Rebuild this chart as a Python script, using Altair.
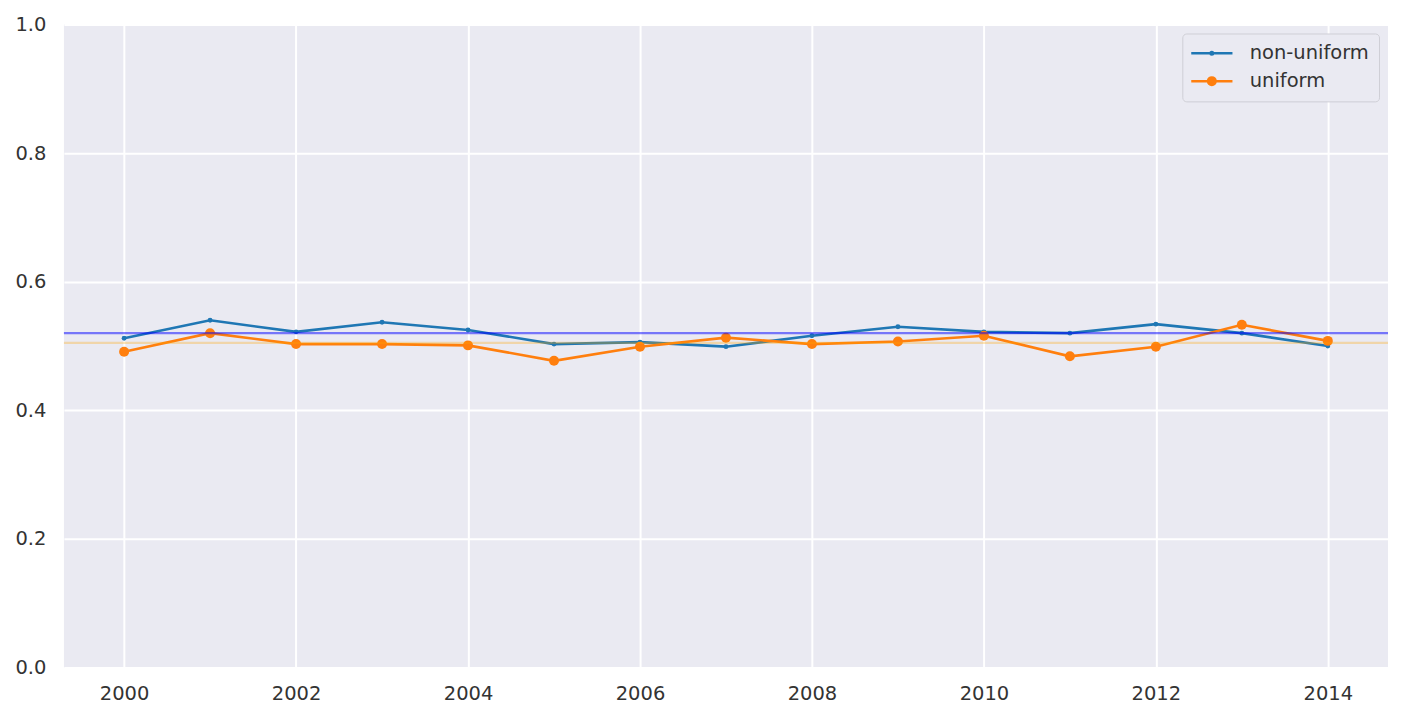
import altair as alt
import pandas as pd

# ---- data ----
years = list(range(2000, 2015))
non_uniform = [0.512, 0.540, 0.522, 0.537, 0.525, 0.503, 0.506, 0.499,
               0.516, 0.530, 0.522, 0.520, 0.534, 0.520, 0.500]
uniform = [0.491, 0.520, 0.503, 0.503, 0.501, 0.477, 0.499, 0.513,
           0.503, 0.507, 0.516, 0.484, 0.499, 0.533, 0.508]
series_names = ["non-uniform", "uniform"]
ref_levels = [0.520, 0.505]
x_ticks = [2000, 2002, 2004, 2006, 2008, 2010, 2012, 2014]
y_ticks = [0.0, 0.2, 0.4, 0.6, 0.8, 1.0]

df = pd.DataFrame({
    "year": years + years,
    "value": non_uniform + uniform,
    "series": [series_names[0]] * len(years) + [series_names[1]] * len(years),
})
ref_df = pd.DataFrame({"value": ref_levels, "series": series_names})

BLUE = "#1f77b4"
ORANGE = "#ff7f0e"
BG = "#eaeaf2"
TXT = "#333333"
FONT = "DejaVu Sans"
FS = 19.5

x_enc = alt.X("year:Q",
              scale=alt.Scale(domain=[1999.3, 2014.7], nice=False, zero=False),
              axis=alt.Axis(values=x_ticks, format="d", title=None, ticks=False,
                            domain=False, labelPadding=17, gridColor="white",
                            gridWidth=2, labelFont=FONT, labelFontSize=FS,
                            labelColor=TXT))
y_enc = alt.Y("value:Q",
              scale=alt.Scale(domain=[0, 1], nice=False, zero=False),
              axis=alt.Axis(values=y_ticks, format=".1f", title=None, ticks=False,
                            domain=False, labelPadding=18, gridColor="white",
                            gridWidth=2, labelFont=FONT, labelFontSize=FS,
                            labelColor=TXT))

path_small = "M-1.35,0H3.81M1.065,0A0.16,0.16 0 1,0 1.385,0A0.16,0.16 0 1,0 1.065,0Z"
path_big = "M-1.35,0H3.81M0.755,0A0.47,0.47 0 1,0 1.695,0A0.47,0.47 0 1,0 0.755,0Z"
color_expr = f"datum.value === 'uniform' ? '{ORANGE}' : '{BLUE}'"

legend = alt.Legend(
    title=None, orient="top-right", offset=9, padding=10,
    fillColor=BG, strokeColor="#cfcfd6", cornerRadius=4,
    labelFont=FONT, labelFontSize=FS, labelColor=TXT, labelLimit=400,
    labelOffset=38, rowPadding=7, symbolSize=256, symbolStrokeWidth=2.5,
    symbolType={"expr": f"datum.value === 'uniform' ? '{path_big}' : '{path_small}'"},
    symbolFillColor={"expr": color_expr},
    symbolStrokeColor={"expr": color_expr},
)
color_enc = alt.Color("series:N",
                      scale=alt.Scale(domain=series_names, range=[BLUE, ORANGE]),
                      legend=legend)

base = alt.Chart(df)

blue_line = base.transform_filter(alt.datum.series == series_names[0]).mark_line(
    strokeWidth=2.6).encode(x=x_enc, y=y_enc, color=color_enc)
blue_pts = base.transform_filter(alt.datum.series == series_names[0]).mark_circle(
    color=BLUE, opacity=1, size=24).encode(x=x_enc, y=y_enc)
orange_line = base.transform_filter(alt.datum.series == series_names[1]).mark_line(
    strokeWidth=2.6).encode(x=x_enc, y=y_enc, color=color_enc)
orange_pts = base.transform_filter(alt.datum.series == series_names[1]).mark_circle(
    color=ORANGE, opacity=1, size=100).encode(x=x_enc, y=y_enc)

rule_blue = alt.Chart(ref_df).transform_filter(
    alt.datum.series == series_names[0]).mark_rule(
    color="#0000ff", opacity=0.5, strokeWidth=2.2).encode(y=y_enc)
rule_orange = alt.Chart(ref_df).transform_filter(
    alt.datum.series == series_names[1]).mark_rule(
    color="#ffa500", opacity=0.3, strokeWidth=2.2).encode(y=y_enc)

chart = alt.layer(
    blue_line, blue_pts, orange_line, orange_pts, rule_blue, rule_orange
).properties(
    width=1326, height=644,
    autosize=alt.AutoSizeParams(type="none"),
    padding={"left": 56, "top": 16, "right": 8, "bottom": 47},
    background="white",
).configure_view(fill=BG, stroke=None)

chart.save("out.html", embed_options={"renderer": "svg", "actions": False})
